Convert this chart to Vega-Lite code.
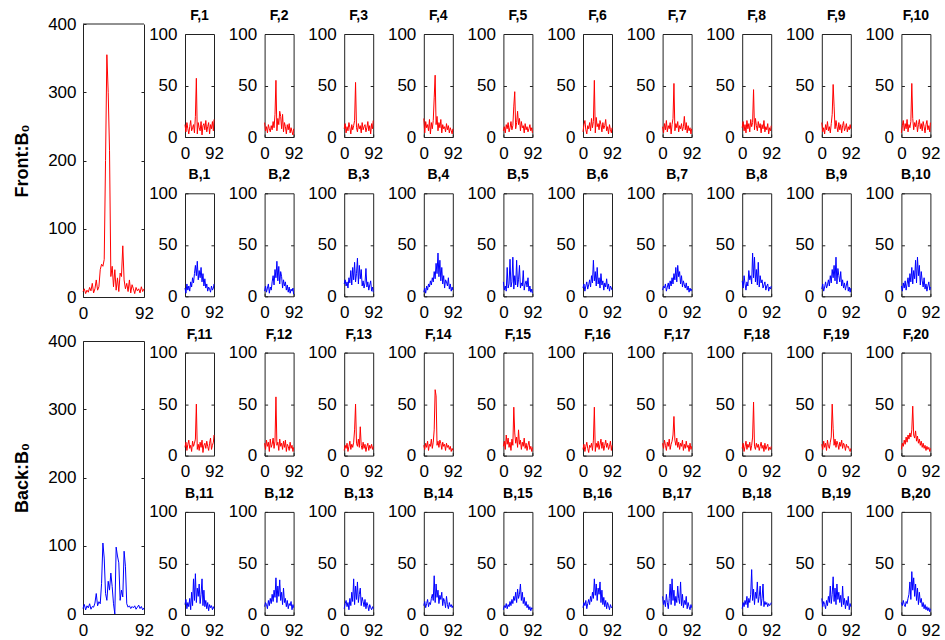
{
"$schema":"https://vega.github.io/schema/vega-lite/v6.json",
"padding":{"left":13,"top":8,"right":0,"bottom":0},
"background":"#ffffff",
"config":{
"font":"Liberation Sans",
"view":{"stroke":"#222222","strokeWidth":1},
"axis":{"grid":false,"domain":false,"domainColor":"#222222","labelFont":"Liberation Sans","labelFontSize":17,"labelColor":"#000000","tickColor":"#222222","tickSize":-3,"labelPadding":11,"labelFlush":false,"labelOverlap":false,"titleColor":"#000000"},
"axisX":{"labelPadding":11},
"header":{"labelFont":"Liberation Sans","labelFontSize":14,"labelFontWeight":"bold","labelColor":"#000000","labelPadding":2}
},
"datasets":{
"front":[{"x":0,"y":8},{"x":2,"y":12},{"x":4,"y":5},{"x":6,"y":10},{"x":8,"y":7},{"x":10,"y":14},{"x":12,"y":9},{"x":14,"y":20},{"x":16,"y":6},{"x":18,"y":12},{"x":20,"y":25},{"x":22,"y":10},{"x":24,"y":15},{"x":26,"y":40},{"x":28,"y":48},{"x":30,"y":45},{"x":32,"y":55},{"x":34,"y":200},{"x":36,"y":355},{"x":38,"y":300},{"x":40,"y":215},{"x":42,"y":30},{"x":44,"y":45},{"x":46,"y":15},{"x":48,"y":40},{"x":50,"y":10},{"x":52,"y":28},{"x":54,"y":8},{"x":56,"y":35},{"x":58,"y":30},{"x":60,"y":75},{"x":62,"y":25},{"x":64,"y":12},{"x":66,"y":20},{"x":68,"y":8},{"x":70,"y":25},{"x":72,"y":6},{"x":74,"y":18},{"x":76,"y":12},{"x":78,"y":5},{"x":80,"y":14},{"x":82,"y":9},{"x":84,"y":12},{"x":86,"y":6},{"x":88,"y":15},{"x":90,"y":8},{"x":92,"y":12}],
"back":[{"x":0,"y":8},{"x":2,"y":14},{"x":4,"y":6},{"x":6,"y":12},{"x":8,"y":9},{"x":10,"y":15},{"x":12,"y":7},{"x":14,"y":11},{"x":16,"y":10},{"x":18,"y":16},{"x":20,"y":30},{"x":22,"y":12},{"x":24,"y":18},{"x":26,"y":15},{"x":28,"y":45},{"x":30,"y":104},{"x":32,"y":82},{"x":34,"y":30},{"x":36,"y":20},{"x":38,"y":48},{"x":40,"y":35},{"x":42,"y":60},{"x":44,"y":40},{"x":46,"y":15},{"x":48,"y":0},{"x":50,"y":98},{"x":52,"y":85},{"x":54,"y":75},{"x":56,"y":20},{"x":58,"y":35},{"x":60,"y":25},{"x":62,"y":92},{"x":64,"y":70},{"x":66,"y":15},{"x":68,"y":10},{"x":70,"y":12},{"x":72,"y":8},{"x":74,"y":11},{"x":76,"y":9},{"x":78,"y":12},{"x":80,"y":7},{"x":82,"y":10},{"x":84,"y":13},{"x":86,"y":8},{"x":88,"y":11},{"x":90,"y":6},{"x":92,"y":9}],
"small":[
{"p":"F,1","x":0,"y":12},{"p":"F,1","x":3,"y":5},{"p":"F,1","x":6,"y":14},{"p":"F,1","x":9,"y":8},{"p":"F,1","x":12,"y":3},{"p":"F,1","x":15,"y":10},{"p":"F,1","x":18,"y":16},{"p":"F,1","x":21,"y":6},{"p":"F,1","x":24,"y":9},{"p":"F,1","x":27,"y":12},{"p":"F,1","x":30,"y":4},{"p":"F,1","x":33,"y":20},{"p":"F,1","x":36,"y":57},{"p":"F,1","x":39,"y":3},{"p":"F,1","x":42,"y":14},{"p":"F,1","x":45,"y":9},{"p":"F,1","x":48,"y":6},{"p":"F,1","x":51,"y":15},{"p":"F,1","x":54,"y":2},{"p":"F,1","x":57,"y":11},{"p":"F,1","x":60,"y":13},{"p":"F,1","x":63,"y":7},{"p":"F,1","x":66,"y":16},{"p":"F,1","x":69,"y":5},{"p":"F,1","x":72,"y":10},{"p":"F,1","x":75,"y":14},{"p":"F,1","x":78,"y":3},{"p":"F,1","x":81,"y":12},{"p":"F,1","x":84,"y":8},{"p":"F,1","x":87,"y":15},{"p":"F,1","x":90,"y":6},{"p":"F,1","x":92,"y":17},
{"p":"F,2","x":0,"y":14},{"p":"F,2","x":3,"y":6},{"p":"F,2","x":6,"y":10},{"p":"F,2","x":9,"y":4},{"p":"F,2","x":12,"y":12},{"p":"F,2","x":15,"y":8},{"p":"F,2","x":18,"y":5},{"p":"F,2","x":21,"y":11},{"p":"F,2","x":24,"y":7},{"p":"F,2","x":27,"y":15},{"p":"F,2","x":30,"y":9},{"p":"F,2","x":33,"y":22},{"p":"F,2","x":36,"y":55},{"p":"F,2","x":39,"y":6},{"p":"F,2","x":42,"y":18},{"p":"F,2","x":45,"y":12},{"p":"F,2","x":48,"y":25},{"p":"F,2","x":51,"y":20},{"p":"F,2","x":54,"y":8},{"p":"F,2","x":57,"y":22},{"p":"F,2","x":60,"y":5},{"p":"F,2","x":63,"y":14},{"p":"F,2","x":66,"y":10},{"p":"F,2","x":69,"y":3},{"p":"F,2","x":72,"y":12},{"p":"F,2","x":75,"y":7},{"p":"F,2","x":78,"y":13},{"p":"F,2","x":81,"y":4},{"p":"F,2","x":84,"y":9},{"p":"F,2","x":87,"y":5},{"p":"F,2","x":90,"y":2},{"p":"F,2","x":92,"y":8},
{"p":"F,3","x":0,"y":8},{"p":"F,3","x":3,"y":13},{"p":"F,3","x":6,"y":4},{"p":"F,3","x":9,"y":10},{"p":"F,3","x":12,"y":6},{"p":"F,3","x":15,"y":14},{"p":"F,3","x":18,"y":9},{"p":"F,3","x":21,"y":3},{"p":"F,3","x":24,"y":12},{"p":"F,3","x":27,"y":7},{"p":"F,3","x":30,"y":11},{"p":"F,3","x":33,"y":16},{"p":"F,3","x":36,"y":53},{"p":"F,3","x":39,"y":9},{"p":"F,3","x":42,"y":5},{"p":"F,3","x":45,"y":13},{"p":"F,3","x":48,"y":8},{"p":"F,3","x":51,"y":11},{"p":"F,3","x":54,"y":4},{"p":"F,3","x":57,"y":14},{"p":"F,3","x":60,"y":7},{"p":"F,3","x":63,"y":10},{"p":"F,3","x":66,"y":12},{"p":"F,3","x":69,"y":5},{"p":"F,3","x":72,"y":9},{"p":"F,3","x":75,"y":15},{"p":"F,3","x":78,"y":6},{"p":"F,3","x":81,"y":11},{"p":"F,3","x":84,"y":3},{"p":"F,3","x":87,"y":13},{"p":"F,3","x":90,"y":8},{"p":"F,3","x":92,"y":16},
{"p":"F,4","x":0,"y":18},{"p":"F,4","x":3,"y":4},{"p":"F,4","x":6,"y":15},{"p":"F,4","x":9,"y":9},{"p":"F,4","x":12,"y":12},{"p":"F,4","x":15,"y":6},{"p":"F,4","x":18,"y":17},{"p":"F,4","x":21,"y":3},{"p":"F,4","x":24,"y":14},{"p":"F,4","x":27,"y":8},{"p":"F,4","x":30,"y":16},{"p":"F,4","x":33,"y":38},{"p":"F,4","x":36,"y":60},{"p":"F,4","x":39,"y":12},{"p":"F,4","x":42,"y":20},{"p":"F,4","x":45,"y":6},{"p":"F,4","x":48,"y":14},{"p":"F,4","x":51,"y":9},{"p":"F,4","x":54,"y":17},{"p":"F,4","x":57,"y":4},{"p":"F,4","x":60,"y":12},{"p":"F,4","x":63,"y":8},{"p":"F,4","x":66,"y":10},{"p":"F,4","x":69,"y":5},{"p":"F,4","x":72,"y":13},{"p":"F,4","x":75,"y":7},{"p":"F,4","x":78,"y":11},{"p":"F,4","x":81,"y":4},{"p":"F,4","x":84,"y":9},{"p":"F,4","x":87,"y":6},{"p":"F,4","x":90,"y":3},{"p":"F,4","x":92,"y":8},
{"p":"F,5","x":0,"y":6},{"p":"F,5","x":3,"y":10},{"p":"F,5","x":6,"y":4},{"p":"F,5","x":9,"y":12},{"p":"F,5","x":12,"y":8},{"p":"F,5","x":15,"y":14},{"p":"F,5","x":18,"y":5},{"p":"F,5","x":21,"y":9},{"p":"F,5","x":24,"y":15},{"p":"F,5","x":27,"y":7},{"p":"F,5","x":30,"y":11},{"p":"F,5","x":33,"y":30},{"p":"F,5","x":36,"y":44},{"p":"F,5","x":39,"y":8},{"p":"F,5","x":42,"y":14},{"p":"F,5","x":45,"y":25},{"p":"F,5","x":48,"y":12},{"p":"F,5","x":51,"y":18},{"p":"F,5","x":54,"y":6},{"p":"F,5","x":57,"y":15},{"p":"F,5","x":60,"y":9},{"p":"F,5","x":63,"y":11},{"p":"F,5","x":66,"y":4},{"p":"F,5","x":69,"y":13},{"p":"F,5","x":72,"y":7},{"p":"F,5","x":75,"y":10},{"p":"F,5","x":78,"y":5},{"p":"F,5","x":81,"y":8},{"p":"F,5","x":84,"y":12},{"p":"F,5","x":87,"y":6},{"p":"F,5","x":90,"y":9},{"p":"F,5","x":92,"y":4},
{"p":"F,6","x":0,"y":5},{"p":"F,6","x":3,"y":12},{"p":"F,6","x":6,"y":16},{"p":"F,6","x":9,"y":7},{"p":"F,6","x":12,"y":3},{"p":"F,6","x":15,"y":11},{"p":"F,6","x":18,"y":8},{"p":"F,6","x":21,"y":14},{"p":"F,6","x":24,"y":6},{"p":"F,6","x":27,"y":18},{"p":"F,6","x":30,"y":9},{"p":"F,6","x":33,"y":15},{"p":"F,6","x":36,"y":55},{"p":"F,6","x":39,"y":4},{"p":"F,6","x":42,"y":19},{"p":"F,6","x":45,"y":10},{"p":"F,6","x":48,"y":13},{"p":"F,6","x":51,"y":7},{"p":"F,6","x":54,"y":16},{"p":"F,6","x":57,"y":12},{"p":"F,6","x":60,"y":5},{"p":"F,6","x":63,"y":14},{"p":"F,6","x":66,"y":8},{"p":"F,6","x":69,"y":11},{"p":"F,6","x":72,"y":17},{"p":"F,6","x":75,"y":6},{"p":"F,6","x":78,"y":10},{"p":"F,6","x":81,"y":3},{"p":"F,6","x":84,"y":12},{"p":"F,6","x":87,"y":7},{"p":"F,6","x":90,"y":4},{"p":"F,6","x":92,"y":9},
{"p":"F,7","x":0,"y":10},{"p":"F,7","x":3,"y":4},{"p":"F,7","x":6,"y":13},{"p":"F,7","x":9,"y":7},{"p":"F,7","x":12,"y":16},{"p":"F,7","x":15,"y":5},{"p":"F,7","x":18,"y":11},{"p":"F,7","x":21,"y":8},{"p":"F,7","x":24,"y":14},{"p":"F,7","x":27,"y":3},{"p":"F,7","x":30,"y":12},{"p":"F,7","x":33,"y":18},{"p":"F,7","x":36,"y":52},{"p":"F,7","x":39,"y":6},{"p":"F,7","x":42,"y":13},{"p":"F,7","x":45,"y":9},{"p":"F,7","x":48,"y":15},{"p":"F,7","x":51,"y":5},{"p":"F,7","x":54,"y":11},{"p":"F,7","x":57,"y":8},{"p":"F,7","x":60,"y":13},{"p":"F,7","x":63,"y":6},{"p":"F,7","x":66,"y":10},{"p":"F,7","x":69,"y":20},{"p":"F,7","x":72,"y":7},{"p":"F,7","x":75,"y":14},{"p":"F,7","x":78,"y":4},{"p":"F,7","x":81,"y":11},{"p":"F,7","x":84,"y":6},{"p":"F,7","x":87,"y":9},{"p":"F,7","x":90,"y":3},{"p":"F,7","x":92,"y":8},
{"p":"F,8","x":0,"y":9},{"p":"F,8","x":3,"y":15},{"p":"F,8","x":6,"y":6},{"p":"F,8","x":9,"y":12},{"p":"F,8","x":12,"y":4},{"p":"F,8","x":15,"y":16},{"p":"F,8","x":18,"y":8},{"p":"F,8","x":21,"y":13},{"p":"F,8","x":24,"y":5},{"p":"F,8","x":27,"y":17},{"p":"F,8","x":30,"y":10},{"p":"F,8","x":33,"y":14},{"p":"F,8","x":36,"y":46},{"p":"F,8","x":39,"y":7},{"p":"F,8","x":42,"y":18},{"p":"F,8","x":45,"y":11},{"p":"F,8","x":48,"y":6},{"p":"F,8","x":51,"y":15},{"p":"F,8","x":54,"y":9},{"p":"F,8","x":57,"y":13},{"p":"F,8","x":60,"y":4},{"p":"F,8","x":63,"y":12},{"p":"F,8","x":66,"y":8},{"p":"F,8","x":69,"y":16},{"p":"F,8","x":72,"y":5},{"p":"F,8","x":75,"y":10},{"p":"F,8","x":78,"y":7},{"p":"F,8","x":81,"y":13},{"p":"F,8","x":84,"y":3},{"p":"F,8","x":87,"y":9},{"p":"F,8","x":90,"y":6},{"p":"F,8","x":92,"y":11},
{"p":"F,9","x":0,"y":14},{"p":"F,9","x":3,"y":5},{"p":"F,9","x":6,"y":9},{"p":"F,9","x":9,"y":3},{"p":"F,9","x":12,"y":12},{"p":"F,9","x":15,"y":7},{"p":"F,9","x":18,"y":15},{"p":"F,9","x":21,"y":6},{"p":"F,9","x":24,"y":10},{"p":"F,9","x":27,"y":4},{"p":"F,9","x":30,"y":13},{"p":"F,9","x":33,"y":22},{"p":"F,9","x":36,"y":51},{"p":"F,9","x":39,"y":30},{"p":"F,9","x":42,"y":8},{"p":"F,9","x":45,"y":16},{"p":"F,9","x":48,"y":10},{"p":"F,9","x":51,"y":5},{"p":"F,9","x":54,"y":14},{"p":"F,9","x":57,"y":7},{"p":"F,9","x":60,"y":12},{"p":"F,9","x":63,"y":4},{"p":"F,9","x":66,"y":11},{"p":"F,9","x":69,"y":15},{"p":"F,9","x":72,"y":6},{"p":"F,9","x":75,"y":9},{"p":"F,9","x":78,"y":13},{"p":"F,9","x":81,"y":5},{"p":"F,9","x":84,"y":10},{"p":"F,9","x":87,"y":7},{"p":"F,9","x":90,"y":12},{"p":"F,9","x":92,"y":8},
{"p":"F,10","x":0,"y":4},{"p":"F,10","x":3,"y":11},{"p":"F,10","x":6,"y":16},{"p":"F,10","x":9,"y":6},{"p":"F,10","x":12,"y":13},{"p":"F,10","x":15,"y":8},{"p":"F,10","x":18,"y":17},{"p":"F,10","x":21,"y":5},{"p":"F,10","x":24,"y":12},{"p":"F,10","x":27,"y":9},{"p":"F,10","x":30,"y":15},{"p":"F,10","x":33,"y":52},{"p":"F,10","x":36,"y":18},{"p":"F,10","x":39,"y":7},{"p":"F,10","x":42,"y":14},{"p":"F,10","x":45,"y":10},{"p":"F,10","x":48,"y":16},{"p":"F,10","x":51,"y":5},{"p":"F,10","x":54,"y":12},{"p":"F,10","x":57,"y":17},{"p":"F,10","x":60,"y":8},{"p":"F,10","x":63,"y":13},{"p":"F,10","x":66,"y":6},{"p":"F,10","x":69,"y":15},{"p":"F,10","x":72,"y":10},{"p":"F,10","x":75,"y":4},{"p":"F,10","x":78,"y":12},{"p":"F,10","x":81,"y":16},{"p":"F,10","x":84,"y":7},{"p":"F,10","x":87,"y":11},{"p":"F,10","x":90,"y":5},{"p":"F,10","x":92,"y":14},
{"p":"B,1","x":0,"y":8},{"p":"B,1","x":3,"y":3},{"p":"B,1","x":6,"y":12},{"p":"B,1","x":9,"y":6},{"p":"B,1","x":12,"y":10},{"p":"B,1","x":15,"y":5},{"p":"B,1","x":18,"y":14},{"p":"B,1","x":21,"y":9},{"p":"B,1","x":24,"y":18},{"p":"B,1","x":27,"y":13},{"p":"B,1","x":30,"y":22},{"p":"B,1","x":33,"y":30},{"p":"B,1","x":36,"y":20},{"p":"B,1","x":39,"y":34},{"p":"B,1","x":42,"y":16},{"p":"B,1","x":45,"y":25},{"p":"B,1","x":48,"y":18},{"p":"B,1","x":51,"y":28},{"p":"B,1","x":54,"y":14},{"p":"B,1","x":57,"y":22},{"p":"B,1","x":60,"y":10},{"p":"B,1","x":63,"y":17},{"p":"B,1","x":66,"y":8},{"p":"B,1","x":69,"y":12},{"p":"B,1","x":72,"y":5},{"p":"B,1","x":75,"y":9},{"p":"B,1","x":78,"y":7},{"p":"B,1","x":81,"y":4},{"p":"B,1","x":84,"y":10},{"p":"B,1","x":87,"y":6},{"p":"B,1","x":90,"y":8},{"p":"B,1","x":92,"y":12},
{"p":"B,2","x":0,"y":5},{"p":"B,2","x":3,"y":10},{"p":"B,2","x":6,"y":4},{"p":"B,2","x":9,"y":8},{"p":"B,2","x":12,"y":12},{"p":"B,2","x":15,"y":3},{"p":"B,2","x":18,"y":9},{"p":"B,2","x":21,"y":6},{"p":"B,2","x":24,"y":14},{"p":"B,2","x":27,"y":20},{"p":"B,2","x":30,"y":11},{"p":"B,2","x":33,"y":26},{"p":"B,2","x":36,"y":18},{"p":"B,2","x":39,"y":34},{"p":"B,2","x":42,"y":15},{"p":"B,2","x":45,"y":29},{"p":"B,2","x":48,"y":12},{"p":"B,2","x":51,"y":24},{"p":"B,2","x":54,"y":19},{"p":"B,2","x":57,"y":8},{"p":"B,2","x":60,"y":16},{"p":"B,2","x":63,"y":10},{"p":"B,2","x":66,"y":14},{"p":"B,2","x":69,"y":6},{"p":"B,2","x":72,"y":11},{"p":"B,2","x":75,"y":4},{"p":"B,2","x":78,"y":9},{"p":"B,2","x":81,"y":3},{"p":"B,2","x":84,"y":7},{"p":"B,2","x":87,"y":5},{"p":"B,2","x":90,"y":8},{"p":"B,2","x":92,"y":2},
{"p":"B,3","x":0,"y":12},{"p":"B,3","x":3,"y":16},{"p":"B,3","x":6,"y":10},{"p":"B,3","x":9,"y":14},{"p":"B,3","x":12,"y":8},{"p":"B,3","x":15,"y":18},{"p":"B,3","x":18,"y":13},{"p":"B,3","x":21,"y":25},{"p":"B,3","x":24,"y":11},{"p":"B,3","x":27,"y":28},{"p":"B,3","x":30,"y":16},{"p":"B,3","x":33,"y":33},{"p":"B,3","x":36,"y":14},{"p":"B,3","x":39,"y":22},{"p":"B,3","x":42,"y":37},{"p":"B,3","x":45,"y":12},{"p":"B,3","x":48,"y":30},{"p":"B,3","x":51,"y":17},{"p":"B,3","x":54,"y":26},{"p":"B,3","x":57,"y":10},{"p":"B,3","x":60,"y":15},{"p":"B,3","x":63,"y":8},{"p":"B,3","x":66,"y":13},{"p":"B,3","x":69,"y":27},{"p":"B,3","x":72,"y":9},{"p":"B,3","x":75,"y":14},{"p":"B,3","x":78,"y":6},{"p":"B,3","x":81,"y":11},{"p":"B,3","x":84,"y":15},{"p":"B,3","x":87,"y":5},{"p":"B,3","x":90,"y":9},{"p":"B,3","x":92,"y":4},
{"p":"B,4","x":0,"y":4},{"p":"B,4","x":3,"y":8},{"p":"B,4","x":6,"y":3},{"p":"B,4","x":9,"y":10},{"p":"B,4","x":12,"y":6},{"p":"B,4","x":15,"y":12},{"p":"B,4","x":18,"y":9},{"p":"B,4","x":21,"y":15},{"p":"B,4","x":24,"y":11},{"p":"B,4","x":27,"y":18},{"p":"B,4","x":30,"y":14},{"p":"B,4","x":33,"y":24},{"p":"B,4","x":36,"y":17},{"p":"B,4","x":39,"y":32},{"p":"B,4","x":42,"y":22},{"p":"B,4","x":45,"y":42},{"p":"B,4","x":48,"y":19},{"p":"B,4","x":51,"y":35},{"p":"B,4","x":54,"y":15},{"p":"B,4","x":57,"y":28},{"p":"B,4","x":60,"y":12},{"p":"B,4","x":63,"y":20},{"p":"B,4","x":66,"y":8},{"p":"B,4","x":69,"y":16},{"p":"B,4","x":72,"y":14},{"p":"B,4","x":75,"y":10},{"p":"B,4","x":78,"y":18},{"p":"B,4","x":81,"y":7},{"p":"B,4","x":84,"y":12},{"p":"B,4","x":87,"y":5},{"p":"B,4","x":90,"y":9},{"p":"B,4","x":92,"y":6},
{"p":"B,5","x":0,"y":14},{"p":"B,5","x":3,"y":6},{"p":"B,5","x":6,"y":10},{"p":"B,5","x":9,"y":5},{"p":"B,5","x":12,"y":28},{"p":"B,5","x":15,"y":8},{"p":"B,5","x":18,"y":12},{"p":"B,5","x":21,"y":36},{"p":"B,5","x":24,"y":9},{"p":"B,5","x":27,"y":14},{"p":"B,5","x":30,"y":38},{"p":"B,5","x":33,"y":7},{"p":"B,5","x":36,"y":20},{"p":"B,5","x":39,"y":11},{"p":"B,5","x":42,"y":35},{"p":"B,5","x":45,"y":9},{"p":"B,5","x":48,"y":16},{"p":"B,5","x":51,"y":30},{"p":"B,5","x":54,"y":8},{"p":"B,5","x":57,"y":13},{"p":"B,5","x":60,"y":10},{"p":"B,5","x":63,"y":25},{"p":"B,5","x":66,"y":6},{"p":"B,5","x":69,"y":12},{"p":"B,5","x":72,"y":15},{"p":"B,5","x":75,"y":9},{"p":"B,5","x":78,"y":18},{"p":"B,5","x":81,"y":5},{"p":"B,5","x":84,"y":10},{"p":"B,5","x":87,"y":4},{"p":"B,5","x":90,"y":7},{"p":"B,5","x":92,"y":3},
{"p":"B,6","x":0,"y":8},{"p":"B,6","x":3,"y":12},{"p":"B,6","x":6,"y":5},{"p":"B,6","x":9,"y":10},{"p":"B,6","x":12,"y":14},{"p":"B,6","x":15,"y":7},{"p":"B,6","x":18,"y":11},{"p":"B,6","x":21,"y":16},{"p":"B,6","x":24,"y":9},{"p":"B,6","x":27,"y":20},{"p":"B,6","x":30,"y":13},{"p":"B,6","x":33,"y":35},{"p":"B,6","x":36,"y":15},{"p":"B,6","x":39,"y":24},{"p":"B,6","x":42,"y":10},{"p":"B,6","x":45,"y":28},{"p":"B,6","x":48,"y":12},{"p":"B,6","x":51,"y":18},{"p":"B,6","x":54,"y":8},{"p":"B,6","x":57,"y":22},{"p":"B,6","x":60,"y":11},{"p":"B,6","x":63,"y":15},{"p":"B,6","x":66,"y":6},{"p":"B,6","x":69,"y":13},{"p":"B,6","x":72,"y":9},{"p":"B,6","x":75,"y":17},{"p":"B,6","x":78,"y":7},{"p":"B,6","x":81,"y":12},{"p":"B,6","x":84,"y":5},{"p":"B,6","x":87,"y":10},{"p":"B,6","x":90,"y":8},{"p":"B,6","x":92,"y":6},
{"p":"B,7","x":0,"y":6},{"p":"B,7","x":3,"y":10},{"p":"B,7","x":6,"y":8},{"p":"B,7","x":9,"y":12},{"p":"B,7","x":12,"y":5},{"p":"B,7","x":15,"y":9},{"p":"B,7","x":18,"y":13},{"p":"B,7","x":21,"y":7},{"p":"B,7","x":24,"y":15},{"p":"B,7","x":27,"y":10},{"p":"B,7","x":30,"y":18},{"p":"B,7","x":33,"y":12},{"p":"B,7","x":36,"y":22},{"p":"B,7","x":39,"y":16},{"p":"B,7","x":42,"y":28},{"p":"B,7","x":45,"y":14},{"p":"B,7","x":48,"y":30},{"p":"B,7","x":51,"y":19},{"p":"B,7","x":54,"y":24},{"p":"B,7","x":57,"y":12},{"p":"B,7","x":60,"y":20},{"p":"B,7","x":63,"y":9},{"p":"B,7","x":66,"y":15},{"p":"B,7","x":69,"y":11},{"p":"B,7","x":72,"y":8},{"p":"B,7","x":75,"y":13},{"p":"B,7","x":78,"y":6},{"p":"B,7","x":81,"y":10},{"p":"B,7","x":84,"y":4},{"p":"B,7","x":87,"y":8},{"p":"B,7","x":90,"y":5},{"p":"B,7","x":92,"y":7},
{"p":"B,8","x":0,"y":15},{"p":"B,8","x":3,"y":8},{"p":"B,8","x":6,"y":20},{"p":"B,8","x":9,"y":12},{"p":"B,8","x":12,"y":6},{"p":"B,8","x":15,"y":14},{"p":"B,8","x":18,"y":10},{"p":"B,8","x":21,"y":25},{"p":"B,8","x":24,"y":16},{"p":"B,8","x":27,"y":20},{"p":"B,8","x":30,"y":12},{"p":"B,8","x":33,"y":42},{"p":"B,8","x":36,"y":18},{"p":"B,8","x":39,"y":38},{"p":"B,8","x":42,"y":14},{"p":"B,8","x":45,"y":26},{"p":"B,8","x":48,"y":11},{"p":"B,8","x":51,"y":33},{"p":"B,8","x":54,"y":9},{"p":"B,8","x":57,"y":20},{"p":"B,8","x":60,"y":13},{"p":"B,8","x":63,"y":16},{"p":"B,8","x":66,"y":8},{"p":"B,8","x":69,"y":11},{"p":"B,8","x":72,"y":14},{"p":"B,8","x":75,"y":6},{"p":"B,8","x":78,"y":10},{"p":"B,8","x":81,"y":12},{"p":"B,8","x":84,"y":5},{"p":"B,8","x":87,"y":9},{"p":"B,8","x":90,"y":7},{"p":"B,8","x":92,"y":10},
{"p":"B,9","x":0,"y":7},{"p":"B,9","x":3,"y":12},{"p":"B,9","x":6,"y":5},{"p":"B,9","x":9,"y":9},{"p":"B,9","x":12,"y":14},{"p":"B,9","x":15,"y":8},{"p":"B,9","x":18,"y":11},{"p":"B,9","x":21,"y":16},{"p":"B,9","x":24,"y":10},{"p":"B,9","x":27,"y":20},{"p":"B,9","x":30,"y":13},{"p":"B,9","x":33,"y":26},{"p":"B,9","x":36,"y":18},{"p":"B,9","x":39,"y":30},{"p":"B,9","x":42,"y":15},{"p":"B,9","x":45,"y":38},{"p":"B,9","x":48,"y":12},{"p":"B,9","x":51,"y":27},{"p":"B,9","x":54,"y":20},{"p":"B,9","x":57,"y":14},{"p":"B,9","x":60,"y":24},{"p":"B,9","x":63,"y":10},{"p":"B,9","x":66,"y":16},{"p":"B,9","x":69,"y":8},{"p":"B,9","x":72,"y":13},{"p":"B,9","x":75,"y":6},{"p":"B,9","x":78,"y":11},{"p":"B,9","x":81,"y":15},{"p":"B,9","x":84,"y":5},{"p":"B,9","x":87,"y":9},{"p":"B,9","x":90,"y":4},{"p":"B,9","x":92,"y":8},
{"p":"B,10","x":0,"y":10},{"p":"B,10","x":3,"y":5},{"p":"B,10","x":6,"y":13},{"p":"B,10","x":9,"y":8},{"p":"B,10","x":12,"y":15},{"p":"B,10","x":15,"y":6},{"p":"B,10","x":18,"y":12},{"p":"B,10","x":21,"y":18},{"p":"B,10","x":24,"y":9},{"p":"B,10","x":27,"y":22},{"p":"B,10","x":30,"y":14},{"p":"B,10","x":33,"y":28},{"p":"B,10","x":36,"y":12},{"p":"B,10","x":39,"y":25},{"p":"B,10","x":42,"y":17},{"p":"B,10","x":45,"y":35},{"p":"B,10","x":48,"y":13},{"p":"B,10","x":51,"y":38},{"p":"B,10","x":54,"y":20},{"p":"B,10","x":57,"y":30},{"p":"B,10","x":60,"y":11},{"p":"B,10","x":63,"y":24},{"p":"B,10","x":66,"y":15},{"p":"B,10","x":69,"y":9},{"p":"B,10","x":72,"y":18},{"p":"B,10","x":75,"y":7},{"p":"B,10","x":78,"y":12},{"p":"B,10","x":81,"y":5},{"p":"B,10","x":84,"y":10},{"p":"B,10","x":87,"y":14},{"p":"B,10","x":90,"y":6},{"p":"B,10","x":92,"y":9},
{"p":"F,11","x":0,"y":8},{"p":"F,11","x":3,"y":13},{"p":"F,11","x":6,"y":5},{"p":"F,11","x":9,"y":11},{"p":"F,11","x":12,"y":15},{"p":"F,11","x":15,"y":7},{"p":"F,11","x":18,"y":10},{"p":"F,11","x":21,"y":4},{"p":"F,11","x":24,"y":14},{"p":"F,11","x":27,"y":9},{"p":"F,11","x":30,"y":12},{"p":"F,11","x":33,"y":16},{"p":"F,11","x":36,"y":50},{"p":"F,11","x":39,"y":6},{"p":"F,11","x":42,"y":11},{"p":"F,11","x":45,"y":5},{"p":"F,11","x":48,"y":13},{"p":"F,11","x":51,"y":8},{"p":"F,11","x":54,"y":15},{"p":"F,11","x":57,"y":3},{"p":"F,11","x":60,"y":10},{"p":"F,11","x":63,"y":12},{"p":"F,11","x":66,"y":7},{"p":"F,11","x":69,"y":14},{"p":"F,11","x":72,"y":9},{"p":"F,11","x":75,"y":5},{"p":"F,11","x":78,"y":12},{"p":"F,11","x":81,"y":17},{"p":"F,11","x":84,"y":6},{"p":"F,11","x":87,"y":10},{"p":"F,11","x":90,"y":13},{"p":"F,11","x":92,"y":20},
{"p":"F,12","x":0,"y":12},{"p":"F,12","x":3,"y":6},{"p":"F,12","x":6,"y":15},{"p":"F,12","x":9,"y":9},{"p":"F,12","x":12,"y":13},{"p":"F,12","x":15,"y":4},{"p":"F,12","x":18,"y":16},{"p":"F,12","x":21,"y":8},{"p":"F,12","x":24,"y":11},{"p":"F,12","x":27,"y":17},{"p":"F,12","x":30,"y":7},{"p":"F,12","x":33,"y":14},{"p":"F,12","x":36,"y":57},{"p":"F,12","x":39,"y":10},{"p":"F,12","x":42,"y":13},{"p":"F,12","x":45,"y":5},{"p":"F,12","x":48,"y":16},{"p":"F,12","x":51,"y":9},{"p":"F,12","x":54,"y":12},{"p":"F,12","x":57,"y":6},{"p":"F,12","x":60,"y":14},{"p":"F,12","x":63,"y":8},{"p":"F,12","x":66,"y":15},{"p":"F,12","x":69,"y":4},{"p":"F,12","x":72,"y":11},{"p":"F,12","x":75,"y":9},{"p":"F,12","x":78,"y":5},{"p":"F,12","x":81,"y":13},{"p":"F,12","x":84,"y":7},{"p":"F,12","x":87,"y":10},{"p":"F,12","x":90,"y":4},{"p":"F,12","x":92,"y":8},
{"p":"F,13","x":0,"y":5},{"p":"F,13","x":3,"y":10},{"p":"F,13","x":6,"y":7},{"p":"F,13","x":9,"y":12},{"p":"F,13","x":12,"y":4},{"p":"F,13","x":15,"y":9},{"p":"F,13","x":18,"y":14},{"p":"F,13","x":21,"y":6},{"p":"F,13","x":24,"y":11},{"p":"F,13","x":27,"y":8},{"p":"F,13","x":30,"y":13},{"p":"F,13","x":33,"y":25},{"p":"F,13","x":36,"y":50},{"p":"F,13","x":39,"y":12},{"p":"F,13","x":42,"y":9},{"p":"F,13","x":45,"y":16},{"p":"F,13","x":48,"y":8},{"p":"F,13","x":51,"y":28},{"p":"F,13","x":54,"y":10},{"p":"F,13","x":57,"y":6},{"p":"F,13","x":60,"y":13},{"p":"F,13","x":63,"y":7},{"p":"F,13","x":66,"y":11},{"p":"F,13","x":69,"y":4},{"p":"F,13","x":72,"y":9},{"p":"F,13","x":75,"y":12},{"p":"F,13","x":78,"y":5},{"p":"F,13","x":81,"y":10},{"p":"F,13","x":84,"y":7},{"p":"F,13","x":87,"y":11},{"p":"F,13","x":90,"y":6},{"p":"F,13","x":92,"y":9},
{"p":"F,14","x":0,"y":10},{"p":"F,14","x":3,"y":6},{"p":"F,14","x":6,"y":12},{"p":"F,14","x":9,"y":8},{"p":"F,14","x":12,"y":14},{"p":"F,14","x":15,"y":5},{"p":"F,14","x":18,"y":11},{"p":"F,14","x":21,"y":9},{"p":"F,14","x":24,"y":16},{"p":"F,14","x":27,"y":7},{"p":"F,14","x":30,"y":13},{"p":"F,14","x":33,"y":25},{"p":"F,14","x":36,"y":64},{"p":"F,14","x":39,"y":58},{"p":"F,14","x":42,"y":10},{"p":"F,14","x":45,"y":14},{"p":"F,14","x":48,"y":8},{"p":"F,14","x":51,"y":15},{"p":"F,14","x":54,"y":12},{"p":"F,14","x":57,"y":6},{"p":"F,14","x":60,"y":13},{"p":"F,14","x":63,"y":9},{"p":"F,14","x":66,"y":11},{"p":"F,14","x":69,"y":5},{"p":"F,14","x":72,"y":12},{"p":"F,14","x":75,"y":8},{"p":"F,14","x":78,"y":10},{"p":"F,14","x":81,"y":6},{"p":"F,14","x":84,"y":9},{"p":"F,14","x":87,"y":4},{"p":"F,14","x":90,"y":7},{"p":"F,14","x":92,"y":5},
{"p":"F,15","x":0,"y":9},{"p":"F,15","x":3,"y":14},{"p":"F,15","x":6,"y":6},{"p":"F,15","x":9,"y":20},{"p":"F,15","x":12,"y":11},{"p":"F,15","x":15,"y":17},{"p":"F,15","x":18,"y":8},{"p":"F,15","x":21,"y":13},{"p":"F,15","x":24,"y":5},{"p":"F,15","x":27,"y":16},{"p":"F,15","x":30,"y":10},{"p":"F,15","x":33,"y":47},{"p":"F,15","x":36,"y":22},{"p":"F,15","x":39,"y":12},{"p":"F,15","x":42,"y":18},{"p":"F,15","x":45,"y":8},{"p":"F,15","x":48,"y":25},{"p":"F,15","x":51,"y":11},{"p":"F,15","x":54,"y":15},{"p":"F,15","x":57,"y":6},{"p":"F,15","x":60,"y":13},{"p":"F,15","x":63,"y":9},{"p":"F,15","x":66,"y":17},{"p":"F,15","x":69,"y":7},{"p":"F,15","x":72,"y":12},{"p":"F,15","x":75,"y":5},{"p":"F,15","x":78,"y":10},{"p":"F,15","x":81,"y":14},{"p":"F,15","x":84,"y":6},{"p":"F,15","x":87,"y":9},{"p":"F,15","x":90,"y":4},{"p":"F,15","x":92,"y":8},
{"p":"F,16","x":0,"y":6},{"p":"F,16","x":3,"y":11},{"p":"F,16","x":6,"y":4},{"p":"F,16","x":9,"y":9},{"p":"F,16","x":12,"y":13},{"p":"F,16","x":15,"y":7},{"p":"F,16","x":18,"y":3},{"p":"F,16","x":21,"y":10},{"p":"F,16","x":24,"y":8},{"p":"F,16","x":27,"y":12},{"p":"F,16","x":30,"y":5},{"p":"F,16","x":33,"y":15},{"p":"F,16","x":36,"y":47},{"p":"F,16","x":39,"y":4},{"p":"F,16","x":42,"y":12},{"p":"F,16","x":45,"y":8},{"p":"F,16","x":48,"y":14},{"p":"F,16","x":51,"y":6},{"p":"F,16","x":54,"y":11},{"p":"F,16","x":57,"y":16},{"p":"F,16","x":60,"y":7},{"p":"F,16","x":63,"y":13},{"p":"F,16","x":66,"y":5},{"p":"F,16","x":69,"y":10},{"p":"F,16","x":72,"y":15},{"p":"F,16","x":75,"y":8},{"p":"F,16","x":78,"y":12},{"p":"F,16","x":81,"y":6},{"p":"F,16","x":84,"y":9},{"p":"F,16","x":87,"y":14},{"p":"F,16","x":90,"y":5},{"p":"F,16","x":92,"y":10},
{"p":"F,17","x":0,"y":12},{"p":"F,17","x":3,"y":7},{"p":"F,17","x":6,"y":15},{"p":"F,17","x":9,"y":10},{"p":"F,17","x":12,"y":5},{"p":"F,17","x":15,"y":13},{"p":"F,17","x":18,"y":9},{"p":"F,17","x":21,"y":16},{"p":"F,17","x":24,"y":6},{"p":"F,17","x":27,"y":11},{"p":"F,17","x":30,"y":14},{"p":"F,17","x":33,"y":20},{"p":"F,17","x":36,"y":38},{"p":"F,17","x":39,"y":15},{"p":"F,17","x":42,"y":10},{"p":"F,17","x":45,"y":17},{"p":"F,17","x":48,"y":8},{"p":"F,17","x":51,"y":13},{"p":"F,17","x":54,"y":6},{"p":"F,17","x":57,"y":12},{"p":"F,17","x":60,"y":9},{"p":"F,17","x":63,"y":15},{"p":"F,17","x":66,"y":5},{"p":"F,17","x":69,"y":11},{"p":"F,17","x":72,"y":7},{"p":"F,17","x":75,"y":14},{"p":"F,17","x":78,"y":8},{"p":"F,17","x":81,"y":10},{"p":"F,17","x":84,"y":4},{"p":"F,17","x":87,"y":12},{"p":"F,17","x":90,"y":6},{"p":"F,17","x":92,"y":9},
{"p":"F,18","x":0,"y":7},{"p":"F,18","x":3,"y":12},{"p":"F,18","x":6,"y":4},{"p":"F,18","x":9,"y":9},{"p":"F,18","x":12,"y":14},{"p":"F,18","x":15,"y":6},{"p":"F,18","x":18,"y":11},{"p":"F,18","x":21,"y":8},{"p":"F,18","x":24,"y":13},{"p":"F,18","x":27,"y":5},{"p":"F,18","x":30,"y":10},{"p":"F,18","x":33,"y":18},{"p":"F,18","x":36,"y":52},{"p":"F,18","x":39,"y":9},{"p":"F,18","x":42,"y":6},{"p":"F,18","x":45,"y":12},{"p":"F,18","x":48,"y":8},{"p":"F,18","x":51,"y":11},{"p":"F,18","x":54,"y":5},{"p":"F,18","x":57,"y":9},{"p":"F,18","x":60,"y":13},{"p":"F,18","x":63,"y":7},{"p":"F,18","x":66,"y":10},{"p":"F,18","x":69,"y":4},{"p":"F,18","x":72,"y":12},{"p":"F,18","x":75,"y":6},{"p":"F,18","x":78,"y":9},{"p":"F,18","x":81,"y":11},{"p":"F,18","x":84,"y":5},{"p":"F,18","x":87,"y":8},{"p":"F,18","x":90,"y":6},{"p":"F,18","x":92,"y":9},
{"p":"F,19","x":0,"y":11},{"p":"F,19","x":3,"y":6},{"p":"F,19","x":6,"y":14},{"p":"F,19","x":9,"y":8},{"p":"F,19","x":12,"y":12},{"p":"F,19","x":15,"y":5},{"p":"F,19","x":18,"y":15},{"p":"F,19","x":21,"y":9},{"p":"F,19","x":24,"y":7},{"p":"F,19","x":27,"y":13},{"p":"F,19","x":30,"y":18},{"p":"F,19","x":33,"y":50},{"p":"F,19","x":36,"y":26},{"p":"F,19","x":39,"y":10},{"p":"F,19","x":42,"y":16},{"p":"F,19","x":45,"y":8},{"p":"F,19","x":48,"y":14},{"p":"F,19","x":51,"y":11},{"p":"F,19","x":54,"y":6},{"p":"F,19","x":57,"y":13},{"p":"F,19","x":60,"y":9},{"p":"F,19","x":63,"y":15},{"p":"F,19","x":66,"y":7},{"p":"F,19","x":69,"y":12},{"p":"F,19","x":72,"y":10},{"p":"F,19","x":75,"y":5},{"p":"F,19","x":78,"y":11},{"p":"F,19","x":81,"y":8},{"p":"F,19","x":84,"y":9},{"p":"F,19","x":87,"y":6},{"p":"F,19","x":90,"y":4},{"p":"F,19","x":92,"y":7},
{"p":"F,20","x":0,"y":6},{"p":"F,20","x":3,"y":12},{"p":"F,20","x":6,"y":9},{"p":"F,20","x":9,"y":15},{"p":"F,20","x":12,"y":11},{"p":"F,20","x":15,"y":18},{"p":"F,20","x":18,"y":13},{"p":"F,20","x":21,"y":20},{"p":"F,20","x":24,"y":16},{"p":"F,20","x":27,"y":22},{"p":"F,20","x":30,"y":18},{"p":"F,20","x":33,"y":25},{"p":"F,20","x":36,"y":48},{"p":"F,20","x":39,"y":20},{"p":"F,20","x":42,"y":17},{"p":"F,20","x":45,"y":24},{"p":"F,20","x":48,"y":14},{"p":"F,20","x":51,"y":19},{"p":"F,20","x":54,"y":12},{"p":"F,20","x":57,"y":16},{"p":"F,20","x":60,"y":10},{"p":"F,20","x":63,"y":14},{"p":"F,20","x":66,"y":8},{"p":"F,20","x":69,"y":12},{"p":"F,20","x":72,"y":7},{"p":"F,20","x":75,"y":10},{"p":"F,20","x":78,"y":5},{"p":"F,20","x":81,"y":9},{"p":"F,20","x":84,"y":6},{"p":"F,20","x":87,"y":8},{"p":"F,20","x":90,"y":4},{"p":"F,20","x":92,"y":7},
{"p":"B,11","x":0,"y":10},{"p":"B,11","x":3,"y":15},{"p":"B,11","x":6,"y":6},{"p":"B,11","x":9,"y":12},{"p":"B,11","x":12,"y":8},{"p":"B,11","x":15,"y":16},{"p":"B,11","x":18,"y":5},{"p":"B,11","x":21,"y":22},{"p":"B,11","x":24,"y":9},{"p":"B,11","x":27,"y":35},{"p":"B,11","x":30,"y":14},{"p":"B,11","x":33,"y":40},{"p":"B,11","x":36,"y":12},{"p":"B,11","x":39,"y":26},{"p":"B,11","x":42,"y":18},{"p":"B,11","x":45,"y":30},{"p":"B,11","x":48,"y":11},{"p":"B,11","x":51,"y":20},{"p":"B,11","x":54,"y":35},{"p":"B,11","x":57,"y":9},{"p":"B,11","x":60,"y":24},{"p":"B,11","x":63,"y":8},{"p":"B,11","x":66,"y":14},{"p":"B,11","x":69,"y":6},{"p":"B,11","x":72,"y":12},{"p":"B,11","x":75,"y":4},{"p":"B,11","x":78,"y":10},{"p":"B,11","x":81,"y":7},{"p":"B,11","x":84,"y":9},{"p":"B,11","x":87,"y":5},{"p":"B,11","x":90,"y":8},{"p":"B,11","x":92,"y":6},
{"p":"B,12","x":0,"y":8},{"p":"B,12","x":3,"y":12},{"p":"B,12","x":6,"y":10},{"p":"B,12","x":9,"y":6},{"p":"B,12","x":12,"y":14},{"p":"B,12","x":15,"y":9},{"p":"B,12","x":18,"y":16},{"p":"B,12","x":21,"y":11},{"p":"B,12","x":24,"y":20},{"p":"B,12","x":27,"y":13},{"p":"B,12","x":30,"y":24},{"p":"B,12","x":33,"y":17},{"p":"B,12","x":36,"y":36},{"p":"B,12","x":39,"y":12},{"p":"B,12","x":42,"y":28},{"p":"B,12","x":45,"y":18},{"p":"B,12","x":48,"y":34},{"p":"B,12","x":51,"y":14},{"p":"B,12","x":54,"y":22},{"p":"B,12","x":57,"y":10},{"p":"B,12","x":60,"y":26},{"p":"B,12","x":63,"y":12},{"p":"B,12","x":66,"y":16},{"p":"B,12","x":69,"y":8},{"p":"B,12","x":72,"y":14},{"p":"B,12","x":75,"y":6},{"p":"B,12","x":78,"y":11},{"p":"B,12","x":81,"y":9},{"p":"B,12","x":84,"y":13},{"p":"B,12","x":87,"y":5},{"p":"B,12","x":90,"y":10},{"p":"B,12","x":92,"y":7},
{"p":"B,13","x":0,"y":6},{"p":"B,13","x":3,"y":11},{"p":"B,13","x":6,"y":14},{"p":"B,13","x":9,"y":8},{"p":"B,13","x":12,"y":12},{"p":"B,13","x":15,"y":5},{"p":"B,13","x":18,"y":16},{"p":"B,13","x":21,"y":9},{"p":"B,13","x":24,"y":22},{"p":"B,13","x":27,"y":13},{"p":"B,13","x":30,"y":35},{"p":"B,13","x":33,"y":10},{"p":"B,13","x":36,"y":28},{"p":"B,13","x":39,"y":15},{"p":"B,13","x":42,"y":32},{"p":"B,13","x":45,"y":12},{"p":"B,13","x":48,"y":20},{"p":"B,13","x":51,"y":26},{"p":"B,13","x":54,"y":9},{"p":"B,13","x":57,"y":17},{"p":"B,13","x":60,"y":13},{"p":"B,13","x":63,"y":8},{"p":"B,13","x":66,"y":15},{"p":"B,13","x":69,"y":6},{"p":"B,13","x":72,"y":12},{"p":"B,13","x":75,"y":9},{"p":"B,13","x":78,"y":4},{"p":"B,13","x":81,"y":10},{"p":"B,13","x":84,"y":7},{"p":"B,13","x":87,"y":5},{"p":"B,13","x":90,"y":8},{"p":"B,13","x":92,"y":6},
{"p":"B,14","x":0,"y":9},{"p":"B,14","x":3,"y":13},{"p":"B,14","x":6,"y":7},{"p":"B,14","x":9,"y":11},{"p":"B,14","x":12,"y":15},{"p":"B,14","x":15,"y":8},{"p":"B,14","x":18,"y":12},{"p":"B,14","x":21,"y":10},{"p":"B,14","x":24,"y":16},{"p":"B,14","x":27,"y":20},{"p":"B,14","x":30,"y":14},{"p":"B,14","x":33,"y":38},{"p":"B,14","x":36,"y":12},{"p":"B,14","x":39,"y":30},{"p":"B,14","x":42,"y":17},{"p":"B,14","x":45,"y":24},{"p":"B,14","x":48,"y":11},{"p":"B,14","x":51,"y":19},{"p":"B,14","x":54,"y":15},{"p":"B,14","x":57,"y":22},{"p":"B,14","x":60,"y":9},{"p":"B,14","x":63,"y":16},{"p":"B,14","x":66,"y":13},{"p":"B,14","x":69,"y":7},{"p":"B,14","x":72,"y":18},{"p":"B,14","x":75,"y":10},{"p":"B,14","x":78,"y":6},{"p":"B,14","x":81,"y":12},{"p":"B,14","x":84,"y":8},{"p":"B,14","x":87,"y":10},{"p":"B,14","x":90,"y":7},{"p":"B,14","x":92,"y":9},
{"p":"B,15","x":0,"y":5},{"p":"B,15","x":3,"y":9},{"p":"B,15","x":6,"y":7},{"p":"B,15","x":9,"y":11},{"p":"B,15","x":12,"y":6},{"p":"B,15","x":15,"y":10},{"p":"B,15","x":18,"y":8},{"p":"B,15","x":21,"y":13},{"p":"B,15","x":24,"y":9},{"p":"B,15","x":27,"y":15},{"p":"B,15","x":30,"y":11},{"p":"B,15","x":33,"y":18},{"p":"B,15","x":36,"y":14},{"p":"B,15","x":39,"y":22},{"p":"B,15","x":42,"y":12},{"p":"B,15","x":45,"y":25},{"p":"B,15","x":48,"y":16},{"p":"B,15","x":51,"y":20},{"p":"B,15","x":54,"y":30},{"p":"B,15","x":57,"y":14},{"p":"B,15","x":60,"y":22},{"p":"B,15","x":63,"y":11},{"p":"B,15","x":66,"y":17},{"p":"B,15","x":69,"y":9},{"p":"B,15","x":72,"y":13},{"p":"B,15","x":75,"y":7},{"p":"B,15","x":78,"y":10},{"p":"B,15","x":81,"y":5},{"p":"B,15","x":84,"y":8},{"p":"B,15","x":87,"y":4},{"p":"B,15","x":90,"y":7},{"p":"B,15","x":92,"y":6},
{"p":"B,16","x":0,"y":7},{"p":"B,16","x":3,"y":12},{"p":"B,16","x":6,"y":9},{"p":"B,16","x":9,"y":14},{"p":"B,16","x":12,"y":6},{"p":"B,16","x":15,"y":11},{"p":"B,16","x":18,"y":15},{"p":"B,16","x":21,"y":10},{"p":"B,16","x":24,"y":18},{"p":"B,16","x":27,"y":13},{"p":"B,16","x":30,"y":22},{"p":"B,16","x":33,"y":16},{"p":"B,16","x":36,"y":35},{"p":"B,16","x":39,"y":19},{"p":"B,16","x":42,"y":30},{"p":"B,16","x":45,"y":14},{"p":"B,16","x":48,"y":26},{"p":"B,16","x":51,"y":20},{"p":"B,16","x":54,"y":32},{"p":"B,16","x":57,"y":12},{"p":"B,16","x":60,"y":24},{"p":"B,16","x":63,"y":10},{"p":"B,16","x":66,"y":17},{"p":"B,16","x":69,"y":8},{"p":"B,16","x":72,"y":14},{"p":"B,16","x":75,"y":6},{"p":"B,16","x":78,"y":12},{"p":"B,16","x":81,"y":9},{"p":"B,16","x":84,"y":5},{"p":"B,16","x":87,"y":10},{"p":"B,16","x":90,"y":7},{"p":"B,16","x":92,"y":8},
{"p":"B,17","x":0,"y":18},{"p":"B,17","x":3,"y":10},{"p":"B,17","x":6,"y":14},{"p":"B,17","x":9,"y":8},{"p":"B,17","x":12,"y":20},{"p":"B,17","x":15,"y":12},{"p":"B,17","x":18,"y":6},{"p":"B,17","x":21,"y":16},{"p":"B,17","x":24,"y":30},{"p":"B,17","x":27,"y":10},{"p":"B,17","x":30,"y":35},{"p":"B,17","x":33,"y":14},{"p":"B,17","x":36,"y":24},{"p":"B,17","x":39,"y":9},{"p":"B,17","x":42,"y":18},{"p":"B,17","x":45,"y":12},{"p":"B,17","x":48,"y":28},{"p":"B,17","x":51,"y":16},{"p":"B,17","x":54,"y":11},{"p":"B,17","x":57,"y":32},{"p":"B,17","x":60,"y":9},{"p":"B,17","x":63,"y":20},{"p":"B,17","x":66,"y":7},{"p":"B,17","x":69,"y":14},{"p":"B,17","x":72,"y":10},{"p":"B,17","x":75,"y":18},{"p":"B,17","x":78,"y":6},{"p":"B,17","x":81,"y":12},{"p":"B,17","x":84,"y":8},{"p":"B,17","x":87,"y":5},{"p":"B,17","x":90,"y":10},{"p":"B,17","x":92,"y":7},
{"p":"B,18","x":0,"y":6},{"p":"B,18","x":3,"y":12},{"p":"B,18","x":6,"y":8},{"p":"B,18","x":9,"y":14},{"p":"B,18","x":12,"y":10},{"p":"B,18","x":15,"y":18},{"p":"B,18","x":18,"y":7},{"p":"B,18","x":21,"y":16},{"p":"B,18","x":24,"y":12},{"p":"B,18","x":27,"y":20},{"p":"B,18","x":30,"y":44},{"p":"B,18","x":33,"y":14},{"p":"B,18","x":36,"y":25},{"p":"B,18","x":39,"y":10},{"p":"B,18","x":42,"y":22},{"p":"B,18","x":45,"y":16},{"p":"B,18","x":48,"y":32},{"p":"B,18","x":51,"y":12},{"p":"B,18","x":54,"y":18},{"p":"B,18","x":57,"y":28},{"p":"B,18","x":60,"y":9},{"p":"B,18","x":63,"y":16},{"p":"B,18","x":66,"y":30},{"p":"B,18","x":69,"y":8},{"p":"B,18","x":72,"y":13},{"p":"B,18","x":75,"y":10},{"p":"B,18","x":78,"y":12},{"p":"B,18","x":81,"y":8},{"p":"B,18","x":84,"y":11},{"p":"B,18","x":87,"y":9},{"p":"B,18","x":90,"y":10},{"p":"B,18","x":92,"y":12},
{"p":"B,19","x":0,"y":16},{"p":"B,19","x":3,"y":8},{"p":"B,19","x":6,"y":13},{"p":"B,19","x":9,"y":10},{"p":"B,19","x":12,"y":6},{"p":"B,19","x":15,"y":14},{"p":"B,19","x":18,"y":9},{"p":"B,19","x":21,"y":18},{"p":"B,19","x":24,"y":12},{"p":"B,19","x":27,"y":28},{"p":"B,19","x":30,"y":11},{"p":"B,19","x":33,"y":20},{"p":"B,19","x":36,"y":37},{"p":"B,19","x":39,"y":13},{"p":"B,19","x":42,"y":26},{"p":"B,19","x":45,"y":10},{"p":"B,19","x":48,"y":30},{"p":"B,19","x":51,"y":15},{"p":"B,19","x":54,"y":22},{"p":"B,19","x":57,"y":12},{"p":"B,19","x":60,"y":19},{"p":"B,19","x":63,"y":8},{"p":"B,19","x":66,"y":28},{"p":"B,19","x":69,"y":10},{"p":"B,19","x":72,"y":16},{"p":"B,19","x":75,"y":6},{"p":"B,19","x":78,"y":14},{"p":"B,19","x":81,"y":9},{"p":"B,19","x":84,"y":18},{"p":"B,19","x":87,"y":5},{"p":"B,19","x":90,"y":11},{"p":"B,19","x":92,"y":8},
{"p":"B,20","x":0,"y":12},{"p":"B,20","x":3,"y":9},{"p":"B,20","x":6,"y":14},{"p":"B,20","x":9,"y":10},{"p":"B,20","x":12,"y":8},{"p":"B,20","x":15,"y":13},{"p":"B,20","x":18,"y":11},{"p":"B,20","x":21,"y":16},{"p":"B,20","x":24,"y":20},{"p":"B,20","x":27,"y":32},{"p":"B,20","x":30,"y":15},{"p":"B,20","x":33,"y":42},{"p":"B,20","x":36,"y":24},{"p":"B,20","x":39,"y":36},{"p":"B,20","x":42,"y":18},{"p":"B,20","x":45,"y":30},{"p":"B,20","x":48,"y":14},{"p":"B,20","x":51,"y":26},{"p":"B,20","x":54,"y":10},{"p":"B,20","x":57,"y":22},{"p":"B,20","x":60,"y":12},{"p":"B,20","x":63,"y":16},{"p":"B,20","x":66,"y":8},{"p":"B,20","x":69,"y":12},{"p":"B,20","x":72,"y":6},{"p":"B,20","x":75,"y":10},{"p":"B,20","x":78,"y":5},{"p":"B,20","x":81,"y":8},{"p":"B,20","x":84,"y":4},{"p":"B,20","x":87,"y":7},{"p":"B,20","x":90,"y":3},{"p":"B,20","x":92,"y":6}
]},
"spacing":-6,
"hconcat":[
{"vconcat":[
{"width":61,"height":263,"view":{"stroke":null},
"layer":[
{"data":{"name":"front"},"mark":{"type":"line","color":"#ff0000","strokeWidth":1},
"encoding":{"x":{"field":"x","type":"quantitative","scale":{"domain":[0,92],"nice":false,"zero":false},"axis":{"values":[0,92],"title":null,"domain":true}},
"y":{"field":"y","type":"quantitative","scale":{"domain":[0,400],"nice":false,"range":[263,-10]},"axis":{"values":[0,100,200,300,400],"domain":true,"title":"Front:B₀","titleFontSize":18,"titleFontWeight":"bold","titlePadding":16,"labelPadding":10}}}},
{"data":{"values":[{}]},"mark":{"type":"rule","color":"#222222","strokeWidth":1},
"encoding":{"x":{"datum":0,"type":"quantitative","axis":{"values":[0,92],"title":null,"domain":true}},"x2":{"datum":92},
"y":{"datum":400,"type":"quantitative","axis":{"orient":"right","labels":false,"domain":true,"values":[100,200,300],"title":null}}}}
],"resolve":{"axis":{"y":"independent"}}},
{"width":61,"height":273,
"layer":[
{"data":{"name":"back"},"mark":{"type":"line","color":"#0000ff","strokeWidth":1},
"encoding":{"x":{"field":"x","type":"quantitative","scale":{"domain":[0,92],"nice":false,"zero":false},"axis":{"values":[0,92],"title":null}},
"y":{"field":"y","type":"quantitative","scale":{"domain":[0,400],"nice":false},"axis":{"values":[0,100,200,300,400],"title":"Back:B₀","titleFontSize":18,"titleFontWeight":"bold","titlePadding":16,"labelPadding":10}}}},
{"data":{"values":[{}]},"mark":{"type":"rule","color":"#222222","strokeWidth":1},
"encoding":{"x":{"datum":0,"type":"quantitative","axis":{"values":[0,92],"title":null}},"x2":{"datum":0},
"y":{"datum":0,"type":"quantitative","axis":{"orient":"right","labels":false,"values":[100,200,300],"title":null}}}}
],"resolve":{"axis":{"y":"independent"}}}
],"bounds":"flush","spacing":44,"resolve":{"scale":{"y":"independent","x":"independent"}}},
{"data":{"name":"small"},
"facet":{"field":"p","type":"nominal","title":null,"sort":["F,1","F,2","F,3","F,4","F,5","F,6","F,7","F,8","F,9","F,10","B,1","B,2","B,3","B,4","B,5","B,6","B,7","B,8","B,9","B,10","F,11","F,12","F,13","F,14","F,15","F,16","F,17","F,18","F,19","F,20","B,11","B,12","B,13","B,14","B,15","B,16","B,17","B,18","B,19","B,20"]},
"columns":10,
"bounds":"flush",
"spacing":{"row":56.3,"column":50.6},
"resolve":{"axis":{"x":"independent","y":"independent"}},
"spec":{"width":29,"height":103,
"layer":[
{"mark":{"type":"line","strokeWidth":1},
"encoding":{
"x":{"field":"x","type":"quantitative","scale":{"domain":[0,92],"nice":false,"zero":false},"axis":{"values":[0,92],"title":null}},
"y":{"field":"y","type":"quantitative","scale":{"domain":[0,100],"nice":false},"axis":{"values":[0,50,100],"title":null}},
"color":{"condition":{"test":"datum.p[0]==='F'","value":"#ff0000"},"value":"#0000ff"}}},
{"mark":{"type":"rule","color":"#222222"},
"encoding":{"x":{"datum":0,"type":"quantitative","axis":{"values":[0,92],"title":null}},"x2":{"datum":0},
"y":{"datum":0,"type":"quantitative","axis":{"orient":"right","labels":false,"values":[50],"title":null}}}}
],"resolve":{"axis":{"y":"independent"}}}}
]
}
